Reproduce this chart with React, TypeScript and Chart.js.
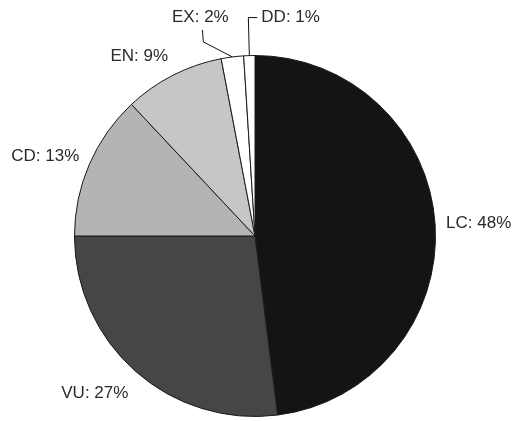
import React, { useEffect, useRef } from "react";
import { Chart, registerables } from "chart.js";

Chart.register(...registerables);

const categories = ["LC", "VU", "CD", "EN", "EX", "DD"];
const percentages = [48, 27, 13, 9, 2, 1];
const sliceColors = ["#141414", "#464646", "#b4b4b4", "#c6c6c6", "#ffffff", "#ffffff"];

// label placement styles: [dx, dy] nudges
const labelNudges: [number, number][] = [
  [0, 0],
  [0, 8],
  [0, 0],
  [0, -2],
  [0, 0],
  [0, 0],
];
// leader labels: offsets from slice edge point to elbows and label
const leaderStyles: ({ elbow: [number, number][]; text: [number, number]; align: CanvasTextAlign } | null)[] = [
  null,
  null,
  null,
  null,
  { elbow: [[-29, -15], [-30, -27]], text: [-32, -40], align: "center" },
  { elbow: [[-1, -38], [8, -38]], text: [12, -38], align: "left" },
];

const labelPlugin = {
  id: "pieLabels",
  afterDatasetsDraw(chart: any) {
    const ctx: CanvasRenderingContext2D = chart.ctx;
    const meta = chart.getDatasetMeta(0);
    ctx.save();
    ctx.font = "17px 'Liberation Sans', Arial, sans-serif";
    ctx.fillStyle = "#2a2a2a";
    ctx.strokeStyle = "#111";
    ctx.lineWidth = 1;
    const h = 16;
    meta.data.forEach((arc: any, i: number) => {
      const { x, y, startAngle, endAngle, outerRadius } = arc.getProps(
        ["x", "y", "startAngle", "endAngle", "outerRadius"],
        true
      );
      const mid = (startAngle + endAngle) / 2;
      const cx = Math.cos(mid);
      const sy = Math.sin(mid);
      const text = `${categories[i]}: ${percentages[i]}%`;
      const leader = leaderStyles[i];
      if (leader) {
        const ex = x + outerRadius * cx;
        const ey = y + outerRadius * sy;
        ctx.beginPath();
        ctx.moveTo(ex, ey);
        leader.elbow.forEach(([dx, dy]) => ctx.lineTo(ex + dx, ey + dy));
        ctx.stroke();
        ctx.textAlign = leader.align;
        ctx.textBaseline = "middle";
        ctx.fillText(text, ex + leader.text[0], ey + leader.text[1]);
        return;
      }
      const gap = 11;
      const ax = x + (outerRadius + gap) * cx;
      const ay = y + (outerRadius + gap) * sy;
      ctx.textAlign = cx >= 0 ? "left" : "right";
      ctx.textBaseline = "middle";
      const ty = ay + sy * (h / 2);
      ctx.fillText(text, ax + labelNudges[i][0], ty + labelNudges[i][1]);
    });
    ctx.restore();
  },
};

export default function App() {
  const ref = useRef<HTMLCanvasElement>(null);
  useEffect(() => {
    document.body.style.margin = "0";
    document.body.style.background = "#fff";
    if (!ref.current) return;
    const chart = new Chart(ref.current, {
      type: "pie",
      data: {
        labels: categories,
        datasets: [
          {
            data: percentages,
            backgroundColor: sliceColors,
            borderColor: "#1a1a1a",
            borderWidth: 1,
          },
        ],
      },
      options: {
        animation: false,
        responsive: false,
        devicePixelRatio: 1,
        layout: { padding: { left: 74, right: 92, top: 55, bottom: 4 } },
        plugins: {
          legend: { display: false },
          tooltip: { enabled: false },
        },
      },
      plugins: [labelPlugin],
    });
    return () => chart.destroy();
  }, []);
  return (
    <div style={{ position: "absolute", left: 0, top: 0, width: 528, height: 421, background: "#fff" }}>
      <canvas ref={ref} width={528} height={421} style={{ width: 528, height: 421 }} />
    </div>
  );
}
